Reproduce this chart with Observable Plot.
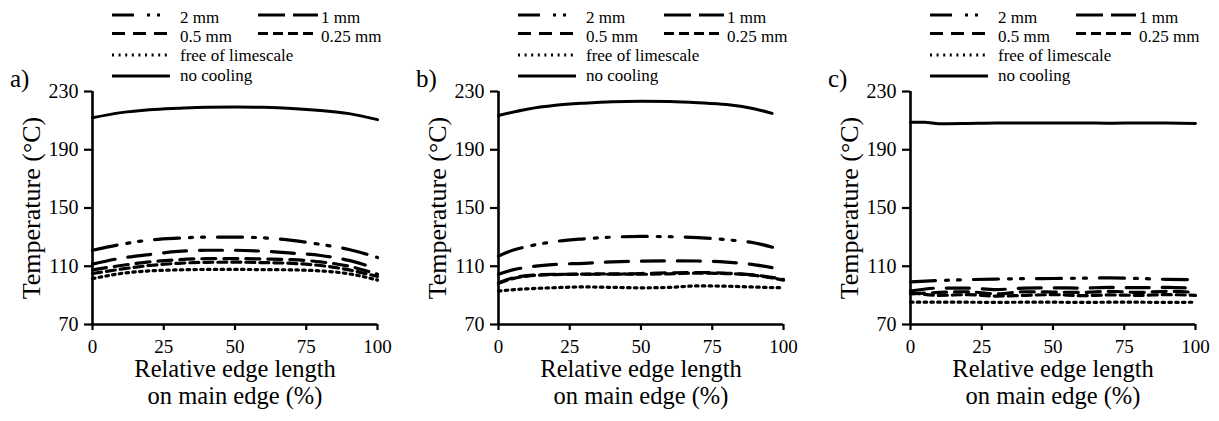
<!DOCTYPE html>
<html><head><meta charset="utf-8">
<script src="https://cdn.jsdelivr.net/npm/d3@7"></script>
<script src="https://cdn.jsdelivr.net/npm/@observablehq/plot@0.6"></script>
<style>
body{margin:0;background:#fff;}
#root{position:relative;width:1219px;height:421px;overflow:hidden;font-family:'Liberation Serif','DejaVu Serif',serif;color:#000;}
.panel{position:absolute;top:0;width:406px;height:421px;}
.panel .plotwrap{position:absolute;top:80px;left:0;}
.panel svg.legend{position:absolute;top:0;left:0;}
.plabel{position:absolute;top:66px;font-size:25px;line-height:25px;font-family:'Liberation Serif','DejaVu Serif',serif;}
</style></head><body><div id="root"></div>
<script>
// ---------- data ----------
const panelLabels = ["a)", "b)", "c)"];
const seriesNames = ["2 mm", "1 mm", "0.5 mm", "0.25 mm", "free of limescale", "no cooling"];
const xTicks = [0, 25, 50, 75, 100];
const yTicks = [70, 110, 150, 190, 230];
const xTitle = "Relative edge length\non main edge (%)";
const yTitle = "Temperature (°C)";

const X = [0, 10, 20, 30, 40, 50, 60, 70, 80, 90, 100];
const X5 = [0, 5, 10, 20, 30, 40, 50, 60, 70, 80, 90, 100];
const xB_noCooling = [0, 10, 20, 30, 40, 50, 60, 70, 80, 90, 96];
const xB_2mm = [0, 5, 10, 20, 30, 40, 50, 60, 70, 80, 90, 97];

// panel a
const a_2mm      = [121, 125, 128, 129.3, 130, 130, 129.5, 127.8, 125, 121.5, 116];
const a_1mm      = [111.5, 115.5, 118, 120.2, 121, 121, 120.3, 119, 117.4, 114, 108];
const a_05mm     = [107.5, 110.5, 113, 114.5, 115.2, 115.3, 115, 114.5, 113, 110, 104.5];
const a_025mm    = [105, 108, 110.5, 112, 112.7, 112.8, 112.5, 112, 110.5, 107.5, 103];
const a_free     = [101.5, 105, 106.8, 107.5, 107.8, 107.8, 107.7, 107.5, 106.8, 104.8, 100.5];
const a_noCooling= [212, 215.5, 217.5, 218.5, 219.2, 219.3, 219.1, 218.4, 217, 214.8, 210.7];

// panel b
const b_2mm      = [117, 121, 123.5, 127, 128.8, 130, 130.5, 130.3, 129.6, 128.2, 126, 122.6];
const b_1mm      = [104.5, 107.5, 109.3, 111.3, 112, 113, 113.5, 113.7, 113.6, 112.8, 111, 107.5];
const b_05mm     = [98.5, 102, 103.5, 104.5, 104.5, 104.5, 105, 105.5, 105.7, 105.2, 104, 101];
const b_025mm    = [98.3, 101.5, 103.2, 104.3, 104.6, 104.8, 104.5, 104.8, 105.3, 105, 103.7, 100.5];
const b_free     = [93, 94.5, 95.3, 95.8, 95.5, 95.2, 95.5, 96.5, 96.3, 95.7, 95.2];
const b_noCooling= [213.5, 217.8, 220.5, 222, 223, 223.3, 223.1, 222.3, 221, 218, 215];

// panel c
const c_2mm      = [99.3, 100.2, 100.8, 101.2, 101.5, 101.6, 101.8, 102, 101.6, 101, 100.8];
const c_1mm      = [93, 95, 95, 94, 95, 95.2, 95, 95.5, 95.3, 95.5, 94.8];
const c_05mm     = [91, 92, 92.5, 91, 92.5, 92.3, 92, 92.8, 92, 92.8, 92];
const c_025mm    = [92, 90, 90.5, 89.5, 90, 90.5, 89.8, 90.3, 90, 90.5, 90];
const c_free     = [85.3, 85.3, 85.3, 85.2, 85.3, 85.3, 85.2, 85.3, 85.3, 85.2, 85.3];
const c_noCooling= [208.8, 208.8, 207.8, 208, 208.3, 208.3, 208.4, 208.4, 208.2, 208.4, 208.3, 208];

// ---------- styles ----------
const FONT = "'Liberation Serif','DejaVu Serif',serif";
const plotDash   = ["25,10,3,9,3,13", "23,13", "14,8", "9,5", "2.5,4.3", null];
const legendDash = ["22,13,3,7,3,13", "27,8", "13,8", "10,5", "2,4.6", null];

const panels = [
  {series: [[X, a_2mm], [X, a_1mm], [X, a_05mm], [X, a_025mm], [X, a_free], [X, a_noCooling]], left: 0},
  {series: [[xB_2mm, b_2mm], [X5, b_1mm], [X5, b_05mm], [X5, b_025mm], [X, b_free], [xB_noCooling, b_noCooling]], left: 406},
  {series: [[X, c_2mm], [X, c_1mm], [X, c_05mm], [X, c_025mm], [X, c_free], [X5, c_noCooling]], left: 818}
];

const root = document.getElementById("root");
const NS = "http://www.w3.org/2000/svg";

// legend layout: [sampleX1, sampleX2, lineY, textX, baselineY]
const legendLayout = [
  [112, 170, 15, 180, 23],
  [258, 318, 15, 321, 23],
  [112, 170, 33.5, 180, 41.7],
  [258, 318, 33.5, 321, 41.7],
  [112, 170, 55, 180, 61],
  [112, 170, 76, 180, 81]
];

panels.forEach((p, pi) => {
  const div = document.createElement("div");
  div.className = "panel";
  div.style.left = p.left + "px";
  root.appendChild(div);

  // legend
  const lg = document.createElementNS(NS, "svg");
  lg.setAttribute("class", "legend");
  lg.setAttribute("width", 406);
  lg.setAttribute("height", 90);
  seriesNames.forEach((name, i) => {
    const [x1, x2, ly, tx, ty] = legendLayout[i];
    const ln = document.createElementNS(NS, "line");
    ln.setAttribute("x1", x1); ln.setAttribute("x2", x2);
    ln.setAttribute("y1", ly); ln.setAttribute("y2", ly);
    ln.setAttribute("stroke", "#000");
    ln.setAttribute("stroke-width", 3);
    if (legendDash[i]) ln.setAttribute("stroke-dasharray", legendDash[i]);
    lg.appendChild(ln);
    const t = document.createElementNS(NS, "text");
    t.setAttribute("x", tx); t.setAttribute("y", ty);
    t.style.fontFamily = FONT;
    t.style.fontSize = "17px";
    t.setAttribute("fill", "#000");
    t.textContent = name;
    lg.appendChild(t);
  });
  div.appendChild(lg);

  // panel label
  const pl = document.createElement("div");
  pl.className = "plabel";
  pl.style.left = "10px";
  pl.textContent = panelLabels[pi];
  div.appendChild(pl);

  // chart
  const lines = p.series.map(([xs, ys], i) => {
    const data = xs.map((x, j) => ({x, y: ys[j]}));
    const opts = {x: "x", y: "y", stroke: "#000", strokeWidth: i === 5 ? 3 : 3.2, curve: "monotone-x"};
    if (plotDash[i]) opts.strokeDasharray = plotDash[i];
    return Plot.line(data, opts);
  });

  const chart = Plot.plot({
    width: 406, height: 341,
    marginLeft: 92, marginRight: 29, marginTop: 11, marginBottom: 97,
    x: {domain: [0, 100]},
    y: {domain: [70, 230]},
    style: {fontFamily: FONT, fontSize: "19.5px", color: "#000", background: "transparent", overflow: "visible"},
    marks: [
      Plot.axisY({ticks: yTicks, tickSize: 8, tickPadding: 6, strokeWidth: 2.2, fontSize: 20, fontFamily: FONT, label: null}),
      Plot.axisX({ticks: xTicks, tickSize: 6, tickPadding: 9, strokeWidth: 2.2, fontSize: 19, fontFamily: FONT, label: null}),
      Plot.ruleX([0], {strokeWidth: 2.6, stroke: "#000"}),
      Plot.ruleY([70], {strokeWidth: 2.6, stroke: "#000"}),
      ...lines,
      Plot.text([yTitle], {text: d => d, frameAnchor: "left", textAnchor: "middle", rotate: -90, dx: -61, fontSize: 26, fontFamily: FONT, fill: "#000"}),
      Plot.text([xTitle], {text: d => d, frameAnchor: "bottom", textAnchor: "middle", lineAnchor: "top", dy: 34, fontSize: 24.5, fontFamily: FONT, lineHeight: 1.08, fill: "#000"})
    ]
  });
  const wrap = document.createElement("div");
  wrap.className = "plotwrap";
  wrap.appendChild(chart);
  div.appendChild(wrap);
});
</script></body></html>
